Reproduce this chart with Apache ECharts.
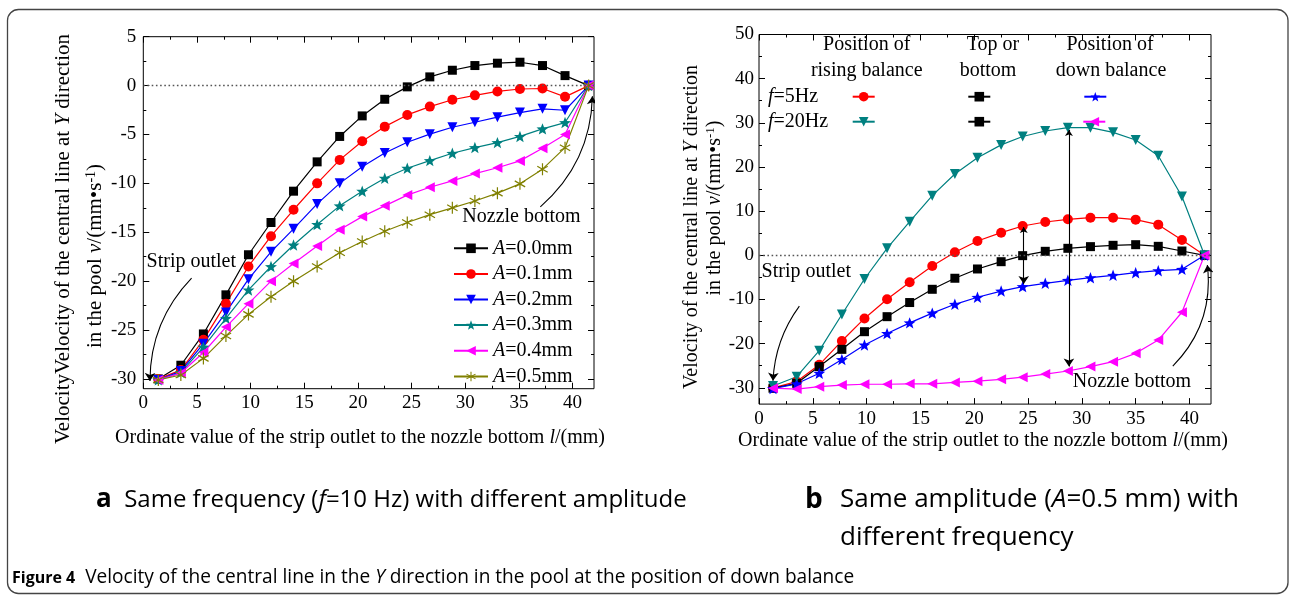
<!DOCTYPE html>
<html><head><meta charset="utf-8">
<script src="https://cdn.jsdelivr.net/npm/echarts@6/dist/echarts.min.js"></script>
<style>html,body{margin:0;padding:0;background:#fff}#c{width:1292px;height:595px}</style>
</head><body><div id="c"></div>
<script>
// ---------- DATA ----------
const xsA = [1.4, 3.5, 5.6, 7.7, 9.8, 11.9, 14.0, 16.2, 18.3, 20.4, 22.5, 24.6, 26.7, 28.8, 30.9, 33.0, 35.1, 37.2, 39.3, 41.5];
const ampNames = ['A=0.0mm', 'A=0.1mm', 'A=0.2mm', 'A=0.3mm', 'A=0.4mm', 'A=0.5mm'];
const amp00 = [-30.0, -28.6, -25.4, -21.4, -17.3, -14.0, -10.8, -7.8, -5.2, -3.1, -1.4, -0.13, 0.89, 1.57, 2.05, 2.29, 2.39, 2.05, 1.02, 0];
const amp01 = [-30.0, -29.1, -26.0, -22.3, -18.5, -15.4, -12.7, -10.0, -7.6, -5.7, -4.2, -3.0, -2.15, -1.45, -1.0, -0.6, -0.35, -0.3, -1.15, 0];
const amp02 = [-30.1, -29.2, -26.4, -23.2, -19.8, -17.0, -14.65, -12.1, -10.0, -8.3, -6.9, -5.8, -4.97, -4.26, -3.75, -3.23, -2.76, -2.38, -2.52, 0];
const amp03 = [-30.1, -29.35, -26.75, -23.8, -20.9, -18.5, -16.3, -14.2, -12.3, -10.8, -9.47, -8.45, -7.67, -6.92, -6.34, -5.83, -5.2, -4.43, -3.78, 0];
const amp04 = [-30.1, -29.4, -27.3, -24.7, -22.3, -20.0, -18.2, -16.4, -14.75, -13.4, -12.3, -11.2, -10.4, -9.75, -9.0, -8.4, -7.7, -6.4, -5.0, 0];
const amp05 = [-30.1, -29.6, -27.9, -25.6, -23.4, -21.6, -20.0, -18.5, -17.1, -15.95, -14.9, -14.0, -13.2, -12.5, -11.8, -11.0, -10.05, -8.55, -6.35, 0];

const xsB = [1.3, 3.5, 5.6, 7.7, 9.8, 11.9, 14.0, 16.1, 18.2, 20.3, 22.5, 24.5, 26.6, 28.7, 30.8, 32.9, 35.0, 37.1, 39.3, 41.4];
const freqNames = ['f5 rising', 'f5 top', 'f5 down', 'f20 rising', 'f20 top', 'f20 down'];
const f5Rising = [-30.0, -28.6, -24.8, -19.4, -14.3, -9.97, -6.1, -2.42, 0.68, 3.24, 5.12, 6.63, 7.54, 8.15, 8.52, 8.52, 8.07, 6.94, 3.46, 0];
const f5Top = [-30.1, -29.0, -25.2, -21.3, -17.3, -13.9, -10.7, -7.7, -5.2, -3.1, -1.45, -0.08, 0.9, 1.58, 1.96, 2.26, 2.4, 2.03, 0.97, 0];
const f5Down = [-30.2, -29.1, -26.7, -23.6, -20.3, -17.7, -15.3, -13.1, -11.1, -9.5, -8.1, -7.1, -6.35, -5.67, -5.07, -4.53, -3.94, -3.49, -3.17, 0];
const f20Rising = [-29.6, -27.5, -21.6, -13.4, -5.37, 1.58, 7.6, 13.5, 18.4, 22.1, 25.0, 26.9, 28.15, 28.9, 28.9, 27.85, 26.1, 22.55, 13.3, 0];
const f20Top = [];
const f20Down = [-30.1, -30.3, -29.75, -29.4, -29.2, -29.2, -29.1, -29.1, -28.8, -28.5, -28.1, -27.6, -26.9, -26.2, -25.2, -24.1, -22.2, -19.2, -12.9, 0];

const xTicks = [0, 5, 10, 15, 20, 25, 30, 35, 40];
const xMinor = [2.5, 7.5, 12.5, 17.5, 22.5, 27.5, 32.5, 37.5];
const yTicksA = [-30, -25, -20, -15, -10, -5, 0, 5];
const yMinorA = [-27.5, -22.5, -17.5, -12.5, -7.5, -2.5, 2.5];
const yTicksB = [-30, -20, -10, 0, 10, 20, 30, 40, 50];
const yMinorB = [-25, -15, -5, 5, 15, 25, 35, 45];

// annotation arrows (data coordinates): [from, to, curveness]
const arrowsA = [[[4.5, -19.7], [0.62, -30.2], -0.2], [[37.0, -12.4], [41.85, -1.1], -0.22]];
const arrowsB = [[[3.75, -11.5], [1.3, -28.4], -0.15], [[38.45, -25.1], [41.66, -2.2], -0.24]];
const vArrowsB = [[[24.6, 6.4], [24.6, -6.5]], [[28.8, 28.4], [28.8, -25.2]]];

// ---------- STYLE ----------
const serif = '"Liberation Serif", "Times New Roman", serif';
const sans = '"Open Sans", "Noto Sans", sans-serif';

function starPath() {
  let p = '';
  for (let i = 0; i < 10; i++) {
    const a = -Math.PI / 2 + i * Math.PI / 5, r = i % 2 ? 0.42 : 1;
    p += (i ? 'L' : 'M') + (r * Math.cos(a)).toFixed(3) + ' ' + (r * Math.sin(a)).toFixed(3) + ' ';
  }
  return 'path://' + p + 'Z';
}
function asteriskPath() {
  const w = 0.1; let p = '';
  [90, 30, 150].forEach(deg => {
    const a = deg * Math.PI / 180, c = Math.cos(a), s = Math.sin(a);
    [[1, w], [-1, w], [-1, -w], [1, -w]].forEach((tu, k) => {
      const x = c * tu[0] - s * tu[1], y = s * tu[0] + c * tu[1];
      p += (k ? 'L' : 'M') + x.toFixed(3) + ' ' + y.toFixed(3) + ' ';
    });
    p += 'Z ';
  });
  return 'path://' + p;
}
const STAR = starPath(), AST = asteriskPath();

const tickLine = { color: '#000', width: 1 };
function axesSet(gridIndex, min, max, ticks, minor, isX, labelMargin) {
  const base = { gridIndex, type: 'value', min, max, splitLine: { show: false }, axisLine: { show: false, onZero: false } };
  const p1 = isX ? 'bottom' : 'left', p2 = isX ? 'top' : 'right';
  return [
    Object.assign({}, base, { position: p1, axisTick: { inside: true, length: 6, customValues: ticks, lineStyle: tickLine },
      axisLabel: { customValues: ticks, fontSize: 19, fontFamily: serif, color: '#000', margin: labelMargin } }),
    Object.assign({}, base, { position: p1, axisTick: { inside: true, length: 3, customValues: minor, lineStyle: tickLine }, axisLabel: { show: false } }),
    Object.assign({}, base, { position: p2, axisTick: { inside: true, length: 6, customValues: ticks, lineStyle: tickLine }, axisLabel: { show: false } }),
    Object.assign({}, base, { position: p2, axisTick: { inside: true, length: 3, customValues: minor, lineStyle: tickLine }, axisLabel: { show: false } })
  ];
}

function lineSeries(name, xs, ys, color, symbol, size, rot, xi, yi) {
  return {
    name, type: 'line', xAxisIndex: xi, yAxisIndex: yi,
    data: ys.map((v, i) => [xs[i], v]),
    symbol, symbolSize: size, symbolRotate: rot, symbolKeepAspect: true,
    showAllSymbol: true, z: 3,
    itemStyle: { color }, lineStyle: { color, width: 1.2 }, animation: false
  };
}
function zeroLine(xi, yi) {
  return {
    type: 'line', xAxisIndex: xi, yAxisIndex: yi, data: [], silent: true, animation: false, z: 1,
    markLine: { silent: true, symbol: 'none', animation: false, label: { show: false },
      lineStyle: { type: [1.6, 2.6], color: '#555', width: 1.3 }, emphasis: { disabled: true },
      data: [{ yAxis: 0 }] }
  };
}
function arrowSeries(xi, yi, arr, both) {
  return {
    type: 'lines', coordinateSystem: 'cartesian2d', xAxisIndex: xi, yAxisIndex: yi, silent: true, animation: false, z: 4,
    symbol: both ? ['arrow', 'arrow'] : ['none', 'arrow'], symbolSize: [6, 8],
    lineStyle: { color: '#000', width: 1.1, opacity: 1 },
    data: arr.map(a => ({ coords: [a[0], a[1]], lineStyle: { curveness: a[2] || 0 } }))
  };
}

const colorsA = ['#000000', '#ff0000', '#0000ff', '#008080', '#ff00ff', '#808000'];
const symA = [['rect', 9, 0], ['circle', 10, 0], ['triangle', 10, 180], [STAR, 12, 0], ['triangle', 10, 90], [AST, 12, 0]];
const ampData = [amp00, amp01, amp02, amp03, amp04, amp05];

const colorsB = ['#ff0000', '#000000', '#0000ff', '#008080', '#000000', '#ff00ff'];
const symB = [['circle', 10, 0], ['rect', 9, 0], [STAR, 12, 0], ['triangle', 10, 180], ['rect', 9, 0], ['triangle', 10, 90]];
const freqData = [f5Rising, f5Top, f5Down, f20Rising, f20Top, f20Down];

const series = [];
series.push(zeroLine(0, 0));
series.push(arrowSeries(0, 0, arrowsA, false));
ampNames.forEach((n, i) => series.push(lineSeries(n, xsA, ampData[i], colorsA[i], symA[i][0], symA[i][1], symA[i][2], 0, 0)));
series.push(zeroLine(4, 4));
series.push(arrowSeries(4, 4, arrowsB, false));
series.push(arrowSeries(4, 4, vArrowsB, true));
freqNames.forEach((n, i) => series.push(lineSeries(n, xsB, freqData[i], colorsB[i], symB[i][0], symB[i][1], symB[i][2], 4, 4)));

// legends
const legends = [];
const legendRowsA = [248.3, 274, 299.5, 325, 350.7, 376.5];
ampNames.forEach((n, i) => legends.push({
  data: [n], left: 453, top: legendRowsA[i] - 10, padding: 0, itemWidth: 34, itemHeight: 12, itemGap: 0,
  selectedMode: false,
  formatter: name => '{i|A}{n|' + name.slice(1) + '}',
  textStyle: { color: '#000', rich: { i: { fontFamily: serif, fontSize: 20, fontStyle: 'italic', color: '#000' }, n: { fontFamily: serif, fontSize: 20, color: '#000' } } }
}));
const legPosB = [[862.7, 96.7], [978.3, 96.7], [1094.3, 96.7], [862.7, 121.7], [978.3, 121.7], [1093.3, 121.7]];
freqNames.forEach((n, i) => legends.push({
  data: [n], left: legPosB[i][0] - 11, top: legPosB[i][1] - 6, padding: 0, itemWidth: 22, itemHeight: 12,
  selectedMode: false, formatter: () => '', textStyle: { fontSize: 1 }
}));

function txt(x, y, text, rich, opts) {
  return Object.assign({ type: 'text', x, y, silent: true,
    style: Object.assign({ text, fontFamily: serif, fontSize: 20, fill: '#000', align: 'center', verticalAlign: 'middle', rich }, opts || {}) });
}
function richSerif(fs) {
  return {
    n: { fontFamily: serif, fontSize: fs, fill: '#000' },
    i: { fontFamily: serif, fontSize: fs, fontStyle: 'italic', fill: '#000' },
    s: { fontFamily: serif, fontSize: Math.round(fs * 0.65), fill: '#000', verticalAlign: 'top', padding: [0, 0, 8, 0] }
  };
}
function richSans(fs) {
  return {
    b: { fontFamily: sans, fontSize: fs + 2, fontWeight: 'bold', fill: '#000' },
    n: { fontFamily: sans, fontSize: fs, fill: '#000' },
    i: { fontFamily: sans, fontSize: fs, fontStyle: 'italic', fill: '#000' }
  };
}
const richFig = {
  fb: { fontFamily: sans, fontSize: 16, fontWeight: 'bold', fill: '#000' },
  fn: { fontFamily: sans, fontSize: 19.1, fill: '#000' },
  fi: { fontFamily: sans, fontSize: 19.1, fontStyle: 'italic', fill: '#000' }
};
const R20 = richSerif(20), R21 = richSerif(21);

const graphics = [
  { type: 'rect', silent: true, shape: { x: 7.5, y: 9.5, width: 1280.5, height: 584, r: 11 }, style: { fill: 'none', stroke: '#444', lineWidth: 1.3 } },
  // axis titles
  Object.assign(txt(63, 239, '{n|VelocityVelocity of the central line at }{i|Y}{n| direction}', R21), { rotation: Math.PI / 2 }),
  Object.assign(txt(95, 256, '{n|in the pool }{i|v}{n|/(mm•s}{s|-1}{n|)}', R21), { rotation: Math.PI / 2 }),
  txt(360, 438, '{n|Ordinate value of the strip outlet to the nozzle bottom }{i|l}{n|/(mm)}', R20),
  Object.assign(txt(692, 227, '{n|Velocity of the central line at }{i|Y}{n| direction}', R20), { rotation: Math.PI / 2 }),
  Object.assign(txt(715, 208, '{n|in the pool }{i|v}{n|/(mm•s}{s|-1}{n|)}', R20), { rotation: Math.PI / 2 }),
  txt(983, 441, '{n|Ordinate value of the strip outlet to the nozzle bottom }{i|l}{n|/(mm)}', R20),
  // annotations
  txt(191.3, 261.7, 'Strip outlet'),
  txt(521.5, 216.7, 'Nozzle bottom'),
  txt(806.3, 271.7, 'Strip outlet'),
  txt(1132, 381.7, 'Nozzle bottom'),
  // right legend headers
  txt(866.7, 45, 'Position of'), txt(866.7, 70.7, 'rising balance'),
  txt(993, 45, 'Top or'), txt(988, 70.7, 'bottom'),
  txt(1110, 45, 'Position of'), txt(1111, 70.7, 'down balance'),
  txt(768, 96.7, '{i|f}{n|=5Hz}', R20, { align: 'left' }),
  txt(768, 121.7, '{i|f}{n|=20Hz}', R20, { align: 'left' }),
  // captions
  txt(96, 500, '{b|a}{n|  Same frequency (}{i|f}{n|=10 Hz) with different amplitude}', richSans(24), { align: 'left' }),
  txt(805, 500, '{b|b}', richSans(26), { align: 'left' }),
  txt(840, 500, '{n|Same amplitude (}{i|A}{n|=0.5 mm) with}', richSans(26), { align: 'left' }),
  txt(840, 538, '{n|different frequency}', richSans(26), { align: 'left' }),
  txt(12, 578, '{fb|Figure 4}{fn|  Velocity of the central line in the }{fi|Y}{fn| direction in the pool at the position of down balance}', richFig, { align: 'left' })
];

const option = {
  animation: false,
  backgroundColor: '#fff',
  grid: [
    { left: 143.3, top: 36.7, width: 450.7, height: 352, show: true, borderColor: '#000', borderWidth: 1, backgroundColor: 'transparent' },
    { left: 759, top: 34.5, width: 452, height: 369.6, show: true, borderColor: '#000', borderWidth: 1, backgroundColor: 'transparent' }
  ],
  xAxis: [].concat(axesSet(0, 0, 42, xTicks, xMinor, true, 5), axesSet(1, 0, 42, xTicks, xMinor, true, 5)),
  yAxis: [].concat(axesSet(0, -31, 5, yTicksA, yMinorA, false, 7), axesSet(1, -33.7, 50, yTicksB, yMinorB, false, 5)),
  legend: legends,
  series,
  graphic: graphics
};
const chart = echarts.init(document.getElementById('c'), null, { renderer: 'canvas' });
chart.setOption(option);
</script></body></html>
